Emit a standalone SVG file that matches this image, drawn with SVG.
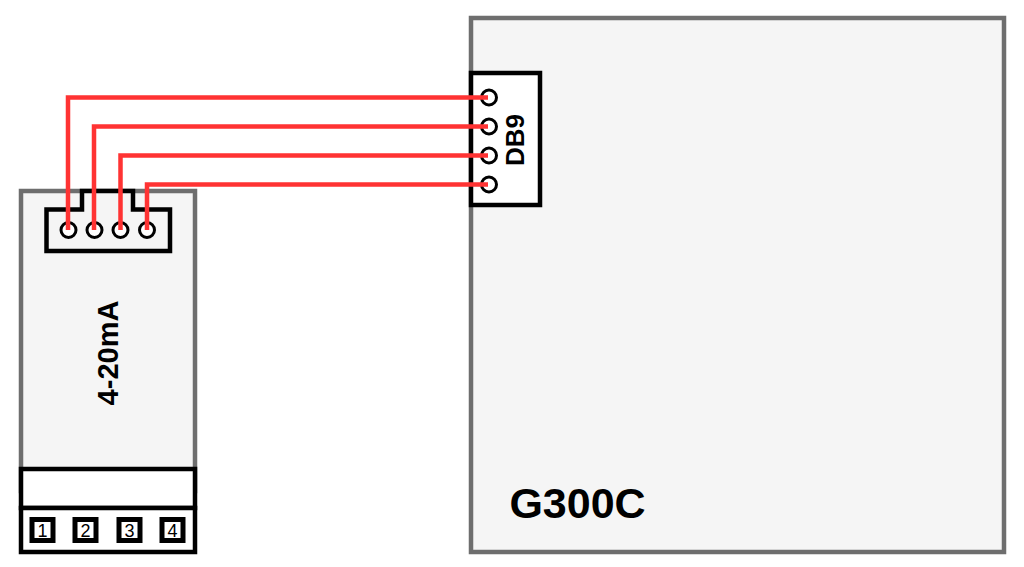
<svg xmlns="http://www.w3.org/2000/svg" width="1024" height="567" viewBox="0 0 1024 567">
<style>
.board{fill:#f5f5f5;stroke:#6e6e6e;stroke-width:4.500}
.part{fill:#fff;stroke:#000;stroke-width:4.500}
.plug{fill:#f5f5f5;stroke:#000;stroke-width:4.500}
.pin{fill:#fff;stroke:#000;stroke-width:3}
.key{fill:#fff;stroke:#000;stroke-width:5}
.wire{fill:none;stroke:#ff3333;stroke-width:4.500}
text{font-family:"Liberation Sans",Arial,sans-serif;fill:#000;text-anchor:middle}
.num{font-size:18px}
</style>
<rect width="1024" height="567" fill="#fff"/>
<g id="g300c">
<rect class="board" x="471" y="18" width="533" height="534"/>
<text x="577.500" y="518" font-size="43" font-weight="bold">G300C</text>
</g>
<g id="module-4-20ma">
<rect class="board" x="21" y="191" width="174" height="300"/>
<text transform="translate(118 353) rotate(-90)" font-size="29" font-weight="bold">4-20mA</text>
</g>
<g id="terminal">
<rect class="part" x="21" y="469" width="174" height="39"/>
<rect class="part" x="21" y="508" width="174" height="44"/>
<rect class="key" x="32" y="519.500" width="21" height="21"/>
<rect class="key" x="75" y="519.500" width="21" height="21"/>
<rect class="key" x="119" y="519.500" width="21" height="21"/>
<rect class="key" x="162" y="519.500" width="21" height="21"/>
<text class="num" x="42.500" y="536.500">1</text>
<text class="num" x="85.500" y="536.500">2</text>
<text class="num" x="129.500" y="536.500">3</text>
<text class="num" x="172.500" y="536.500">4</text>
</g>
<g id="plug">
<path class="plug" d="M46.500 209.500H82V191H133V209.500H170V251H46.500Z"/>
<circle class="pin" cx="68.500" cy="230" r="7.500"/>
<circle class="pin" cx="94.500" cy="230" r="7.500"/>
<circle class="pin" cx="120.500" cy="230" r="7.500"/>
<circle class="pin" cx="147" cy="230" r="7.500"/>
</g>
<g id="db9">
<rect class="part" x="471" y="73" width="69" height="132"/>
<circle class="pin" cx="489" cy="97.500" r="7.500"/>
<circle class="pin" cx="489" cy="126.500" r="7.500"/>
<circle class="pin" cx="489" cy="155.500" r="7.500"/>
<circle class="pin" cx="489" cy="184.500" r="7.500"/>
<text transform="translate(523.500 140) rotate(-90)" font-size="26" font-weight="bold">DB9</text>
</g>
<g id="connectors">
<path class="wire" d="M68 230V97.500H488"/>
<path class="wire" d="M94 230V126.500H488"/>
<path class="wire" d="M120.500 230V155.500H488"/>
<path class="wire" d="M147 230V184.500H488"/>
</g>
</svg>
